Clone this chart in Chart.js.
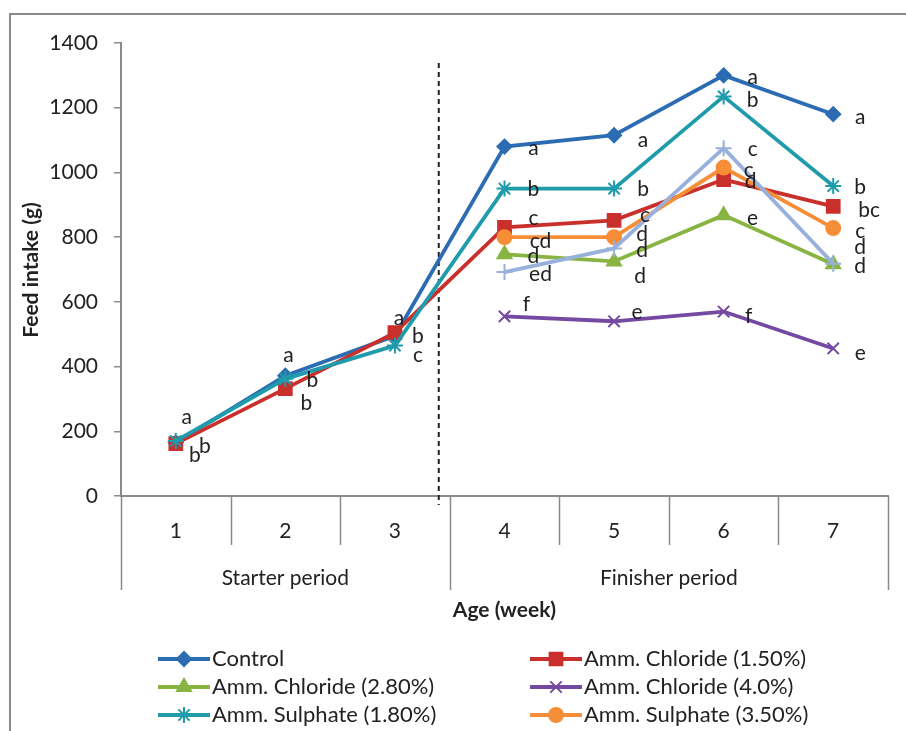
<!DOCTYPE html>
<html>
<head>
<meta charset="utf-8">
<script src="https://cdn.jsdelivr.net/npm/chart.js@4.4.1/dist/chart.umd.min.js"></script>
<style>
  html, body { margin: 0; padding: 0; background: #fff; overflow: hidden; }
  #wrap { position: relative; width: 906px; height: 731px; }
</style>
</head>
<body>
<div id="wrap"><canvas id="myChart"></canvas></div>
<script>
// data
const weeks = ['1', '2', '3', '4', '5', '6', '7'];
const periods = ['Starter period', 'Finisher period'];
const periodWeeks = [3, 4];

const seriesNames = [
    'Control',
    'Amm. Chloride (1.50%)',
    'Amm. Chloride (2.80%)',
    'Amm. Chloride (4.0%)',
    'Amm. Sulphate (1.80%)',
    'Amm. Sulphate (3.50%)',
    'Amm. Sulphate (5.0%)'
];

const control      = [165, 372, 495, 1080, 1115, 1300, 1180];
const chloride150  = [162, 332, 505, 830, 852, 978, 895];
const chloride280  = [null, null, null, 747, 725, 868, 716];
const chloride400  = [null, null, null, 555, 540, 570, 456];
const sulphate180  = [170, 362, 465, 950, 950, 1235, 958];
const sulphate350  = [null, null, null, 800, 800, 1015, 828];
const sulphate500  = [null, null, null, 692, 765, 1075, 718];

// significance letters
const controlLetters     = ['a', 'a', 'a', 'a', 'a', 'a', 'a'];
const chloride150Letters = ['b', 'b', 'b', 'c', 'c', 'd', 'bc'];
const chloride280Letters = [null, null, null, 'd', 'd', 'e', 'd'];
const chloride400Letters = [null, null, null, 'f', 'e', 'f', 'e'];
const sulphate180Letters = ['b', 'b', 'c', 'b', 'b', 'b', 'b'];
const sulphate350Letters = [null, null, null, 'cd', 'd', 'c', 'c'];
const sulphate500Letters = [null, null, null, 'ed', 'd', 'c', 'd'];

const yTicks = [0, 200, 400, 600, 800, 1000, 1200, 1400];

// style: colours, markers, letter offsets (px from the point)
const colors = ['#2b6cb2', '#c9302c', '#88b441', '#7548a2', '#1f9bab', '#f68d37', '#98b1dc'];
const markers = ['rectRot', 'rect', 'triangle', 'crossRot', 'star', 'circle', 'cross'];
const markerSizes = [7, 9, 8, 8, 8, 7, 8];
const nudges = [
    [[11, -25], [3, -20], [4, -18], [29, 2], [29, 5], [29, 2], [27, 3]],
    [[19, 12], [21, 15], [23, 4], [29, -9], [31, -5], [27, 2], [36, 4]],
    [null, null, null, [29, 2], [26, 15], [29, 3], [27, 2]],
    [null, null, null, [22, -12], [23, -9], [25, 5], [27, 5]],
    [[29, 5], [27, 1], [23, 10], [29, 1], [29, 1], [29, 4], [27, 1]],
    [null, null, null, [36, 4], [28, -3], [25, 3], [27, 3]],
    [null, null, null, [36, 2], [28, 2], [29, 1], [27, -16]]
];

const values = [control, chloride150, chloride280, chloride400, sulphate180, sulphate350, sulphate500];
const letters = [controlLetters, chloride150Letters, chloride280Letters, chloride400Letters,
                 sulphate180Letters, sulphate350Letters, sulphate500Letters];

const FONT = 'Lato, "Open Sans", sans-serif';
const GREY = '#8a8a8a';

function marker(ctx, style, r, x, y, color) {
    if (Chart.helpers && Chart.helpers.drawPoint) {
        ctx.save();
        ctx.fillStyle = color;
        ctx.strokeStyle = color;
        ctx.lineWidth = 2;
        Chart.helpers.drawPoint(ctx, {pointStyle: style, radius: r, rotation: 0, borderWidth: 2}, x, y);
        ctx.restore();
    }
}

const extras = {
    id: 'extras',
    beforeDatasetsDraw(chart) {
        const ctx = chart.ctx;
        const x = chart.scales.x;
        const y = chart.scales.y;
        // dashed separator between starter and finisher
        const dx = x.getPixelForValue(2.4);
        ctx.save();
        ctx.strokeStyle = '#222';
        ctx.lineWidth = 2;
        ctx.setLineDash([5, 4]);
        ctx.beginPath();
        ctx.moveTo(dx, 63);
        ctx.lineTo(dx, y.bottom + 9);
        ctx.stroke();
        ctx.restore();
    },
    afterDatasetsDraw(chart) {
        const ctx = chart.ctx;
        ctx.save();
        ctx.font = '21px ' + FONT;
        ctx.fillStyle = '#222';
        ctx.textAlign = 'center';
        ctx.textBaseline = 'middle';
        values.forEach(function(v, s) {
            const meta = chart.getDatasetMeta(s);
            letters[s].forEach(function(l, i) {
                if (!l || v[i] == null) return;
                const pt = meta.data[i];
                const n = nudges[s][i];
                ctx.fillText(l, pt.x + n[0], pt.y + n[1]);
            });
        });
        ctx.restore();
    },
    afterDraw(chart) {
        const ctx = chart.ctx;
        const x = chart.scales.x;
        const y = chart.scales.y;
        const base = y.bottom;
        ctx.save();
        // outer frame
        ctx.strokeStyle = GREY;
        ctx.lineWidth = 2;
        ctx.strokeRect(10, 14, 1000, 1000);

        // category separators under the axis
        ctx.lineWidth = 1.5;
        ctx.strokeStyle = GREY;
        let groupEdges = [0];
        let acc = 0;
        periodWeeks.forEach(function(n) { acc += n; groupEdges.push(acc); });
        for (let k = 0; k <= weeks.length; k++) {
            const px = Math.round(x.getPixelForValue(k - 0.5)) + 0.5;
            const isGroup = groupEdges.indexOf(k) >= 0;
            ctx.beginPath();
            ctx.moveTo(px, base);
            ctx.lineTo(px, isGroup ? 590 : 545);
            ctx.stroke();
        }
        // period labels
        ctx.fillStyle = '#222';
        ctx.font = '21px ' + FONT;
        ctx.textAlign = 'center';
        ctx.textBaseline = 'middle';
        periods.forEach(function(p, g) {
            const a = x.getPixelForValue(groupEdges[g] - 0.5);
            const b = x.getPixelForValue(groupEdges[g + 1] - 0.5);
            ctx.fillText(p, (a + b) / 2, 578);
        });
        // axis titles
        ctx.font = 'bold 21px ' + FONT;
        ctx.fillText('Age (week)', (x.left + x.right) / 2, 610);
        ctx.translate(31, 270);
        ctx.rotate(-Math.PI / 2);
        ctx.fillText('Feed intake (g)', 0, 0);
        ctx.setTransform(1, 0, 0, 1, 0, 0);

        // legend, two columns
        ctx.font = '22px ' + FONT;
        ctx.textAlign = 'left';
        seriesNames.forEach(function(name, i) {
            const col = i % 2;
            const row = Math.floor(i / 2);
            const lx = col === 0 ? 158 : 530;
            const ly = 659 + row * 28;
            ctx.strokeStyle = colors[i];
            ctx.lineWidth = 4;
            ctx.beginPath();
            ctx.moveTo(lx, ly);
            ctx.lineTo(lx + 52, ly);
            ctx.stroke();
            marker(ctx, markers[i], markerSizes[i], lx + 26, ly, colors[i]);
            ctx.fillStyle = '#222';
            ctx.fillText(name, lx + 54, ly);
        });
        ctx.restore();
    }
};

const ctx = document.getElementById('myChart').getContext('2d');
new Chart(ctx, {
    type: 'line',
    data: {
        labels: weeks,
        datasets: values.map(function(v, i) {
            return {
                label: seriesNames[i],
                data: v,
                borderColor: colors[i],
                backgroundColor: colors[i],
                pointBackgroundColor: colors[i],
                pointBorderColor: colors[i],
                pointStyle: markers[i],
                pointRadius: markerSizes[i],
                pointBorderWidth: 2,
                borderWidth: 3.8,
                tension: 0,
                spanGaps: false,
                order: 10 - i   // later series on top, like the original
            };
        })
    },
    options: {
        responsive: true,
        maintainAspectRatio: false,
        animation: false,
        layout: { padding: { left: 10, top: 43, right: 18, bottom: 0 } },
        plugins: {
            legend: { display: false },
            tooltip: { enabled: false }
        },
        scales: {
            x: {
                offset: true,
                grid: { display: false, drawTicks: false },
                border: { display: true, color: GREY, width: 2 },
                ticks: {
                    color: '#222',
                    font: { family: FONT, size: 21 },
                    padding: 23,
                    maxRotation: 0
                },
                afterFit: function(scale) { scale.height = 235; }
            },
            y: {
                min: 0,
                max: 1400,
                afterBuildTicks: function(scale) {
                    scale.ticks = yTicks.map(function(v) { return {value: v}; });
                },
                grid: { drawOnChartArea: false, tickLength: 7, color: GREY, lineWidth: 1.5 },
                border: { display: true, color: GREY, width: 2 },
                ticks: {
                    color: '#222',
                    font: { family: FONT, size: 21 },
                    padding: 16,
                    callback: function(v) { return String(v); }
                },
                afterFit: function(scale) { scale.width = 111; }
            }
        }
    },
    plugins: [extras]
});
</script>
</body>
</html>
